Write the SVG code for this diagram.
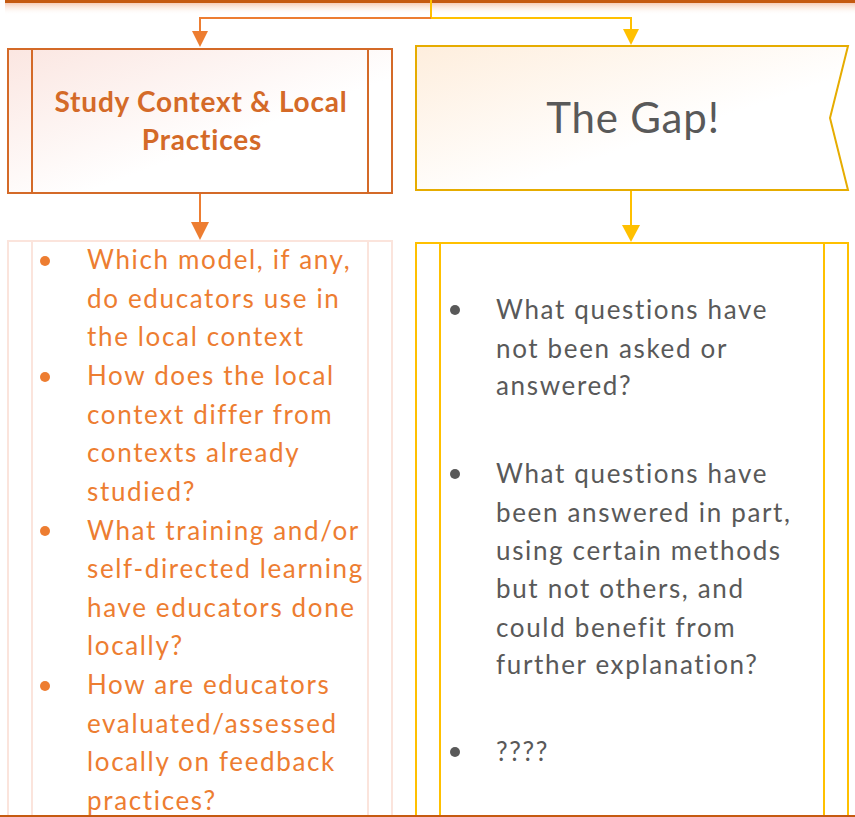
<svg xmlns="http://www.w3.org/2000/svg" width="855" height="817" viewBox="0 0 855 817">
<defs>
<linearGradient id="gL" x1="0" y1="0" x2="1" y2="1"><stop offset="0" stop-color="#FBE6E1"/><stop offset="0.6" stop-color="#FFFFFF"/></linearGradient>
<linearGradient id="gR" x1="0" y1="0" x2="1" y2="1"><stop offset="0" stop-color="#FEEEDD"/><stop offset="0.6" stop-color="#FFFFFF"/></linearGradient>
<linearGradient id="shadow" x1="0" y1="0" x2="0" y2="1"><stop offset="0" stop-color="#F6CDB8"/><stop offset="1" stop-color="#FFFFFF" stop-opacity="0"/></linearGradient>
</defs>
<style>
.body{font-family:Lato,"Open Sans","Liberation Sans",sans-serif;font-size:26px;letter-spacing:1.65px}
.or{fill:#ED7D31}
.gr{fill:#595959}
.title{font-family:Lato,"Open Sans","Liberation Sans",sans-serif;font-weight:bold;font-size:28px;fill:#D46A28;letter-spacing:0.8px}
</style>
<rect width="855" height="817" fill="#FFFFFF"/>
<g id="topbar">
<rect x="5" y="3" width="850" height="12" fill="url(#shadow)"/>
<rect x="5" y="0" width="850" height="3" fill="#C55A11"/>
</g>
<g id="connectors" fill="none" stroke-width="2">
<path d="M431,0 V18" stroke="#FFC000"/>
<path d="M431,18 H200 V32" stroke="#ED7D31"/>
<path d="M431,18 H631 V30" stroke="#FFC000"/>
<path d="M192,31 L208,31 L200,47 Z" fill="#ED7D31" stroke="none"/>
<path d="M623,29 L639,29 L631,45 Z" fill="#FFC000" stroke="none"/>
<path d="M200,193 V223" stroke="#ED7D31"/>
<path d="M191,222 L209,222 L200,240 Z" fill="#ED7D31" stroke="none"/>
<path d="M631,190 V226" stroke="#FFC000"/>
<path d="M622,225 L640,225 L631,242 Z" fill="#FFC000" stroke="none"/>
</g>
<g id="study-context">
<rect x="8" y="49" width="384" height="144" fill="url(#gL)" stroke="#D46A28" stroke-width="2"/>
<line x1="32" y1="49" x2="32" y2="193" stroke="#D46A28" stroke-width="2"/>
<line x1="368" y1="49" x2="368" y2="193" stroke="#D46A28" stroke-width="2"/>
<text class="title" x="201" y="112" text-anchor="middle">Study Context &amp; Local</text>
<text class="title" x="202" y="150" text-anchor="middle">Practices</text>
</g>
<g id="the-gap">
<path d="M416,46 H848 L830,118 L848,190 H416 Z" fill="url(#gR)" stroke="#E6AC00" stroke-width="2"/>
<text x="633" y="133" text-anchor="middle" font-family="Lato,'Open Sans','Liberation Sans',sans-serif" font-size="42" letter-spacing="0.8" fill="#595959">The Gap!</text>
</g>
<g id="local-questions">
<rect x="8" y="241" width="384" height="590" fill="#FFFFFF" stroke="#FBE4DC" stroke-width="2"/>
<line x1="32" y1="241" x2="32" y2="817" stroke="#FBE4DC" stroke-width="2"/>
<line x1="368" y1="241" x2="368" y2="817" stroke="#FBE4DC" stroke-width="2"/>
<g class="or">
<circle cx="45" cy="261" r="5"/>
<circle cx="45" cy="377" r="5"/>
<circle cx="45" cy="531" r="5"/>
<circle cx="45" cy="686" r="5"/>
</g>
<g class="body or">
<text x="87" y="269">Which model, if any,</text>
<text x="87" y="307.5">do educators use in</text>
<text x="87" y="346">the local context</text>
<text x="87" y="385">How does the local</text>
<text x="87" y="423.5">context differ from</text>
<text x="87" y="462">contexts already</text>
<text x="87" y="500.5">studied?</text>
<text x="87" y="539.5">What training and/or</text>
<text x="87" y="578">self-directed learning</text>
<text x="87" y="616.5">have educators done</text>
<text x="87" y="655">locally?</text>
<text x="87" y="694">How are educators</text>
<text x="87" y="732.5">evaluated/assessed</text>
<text x="87" y="771">locally on feedback</text>
<text x="87" y="809.5">practices?</text>
</g>
</g>
<g id="gap-questions">
<rect x="416" y="243" width="432" height="590" fill="#FFFFFF" stroke="#FFC000" stroke-width="2"/>
<line x1="440" y1="243" x2="440" y2="817" stroke="#FFC000" stroke-width="2"/>
<line x1="824" y1="243" x2="824" y2="817" stroke="#FFC000" stroke-width="2"/>
<g class="gr">
<circle cx="455" cy="310" r="5"/>
<circle cx="455" cy="474" r="5"/>
<circle cx="455" cy="752" r="5"/>
</g>
<g class="body gr">
<text x="496" y="319">What questions have</text>
<text x="496" y="358">not been asked or</text>
<text x="496" y="395">answered?</text>
<text x="496" y="483">What questions have</text>
<text x="496" y="522">been answered in part,</text>
<text x="496" y="560">using certain methods</text>
<text x="496" y="598">but not others, and</text>
<text x="496" y="637">could benefit from</text>
<text x="496" y="674">further explanation?</text>
<text x="496" y="761">????</text>
</g>
</g>
<rect id="bottom-edge" x="0" y="815" width="855" height="2" fill="#C55A11"/>
</svg>
